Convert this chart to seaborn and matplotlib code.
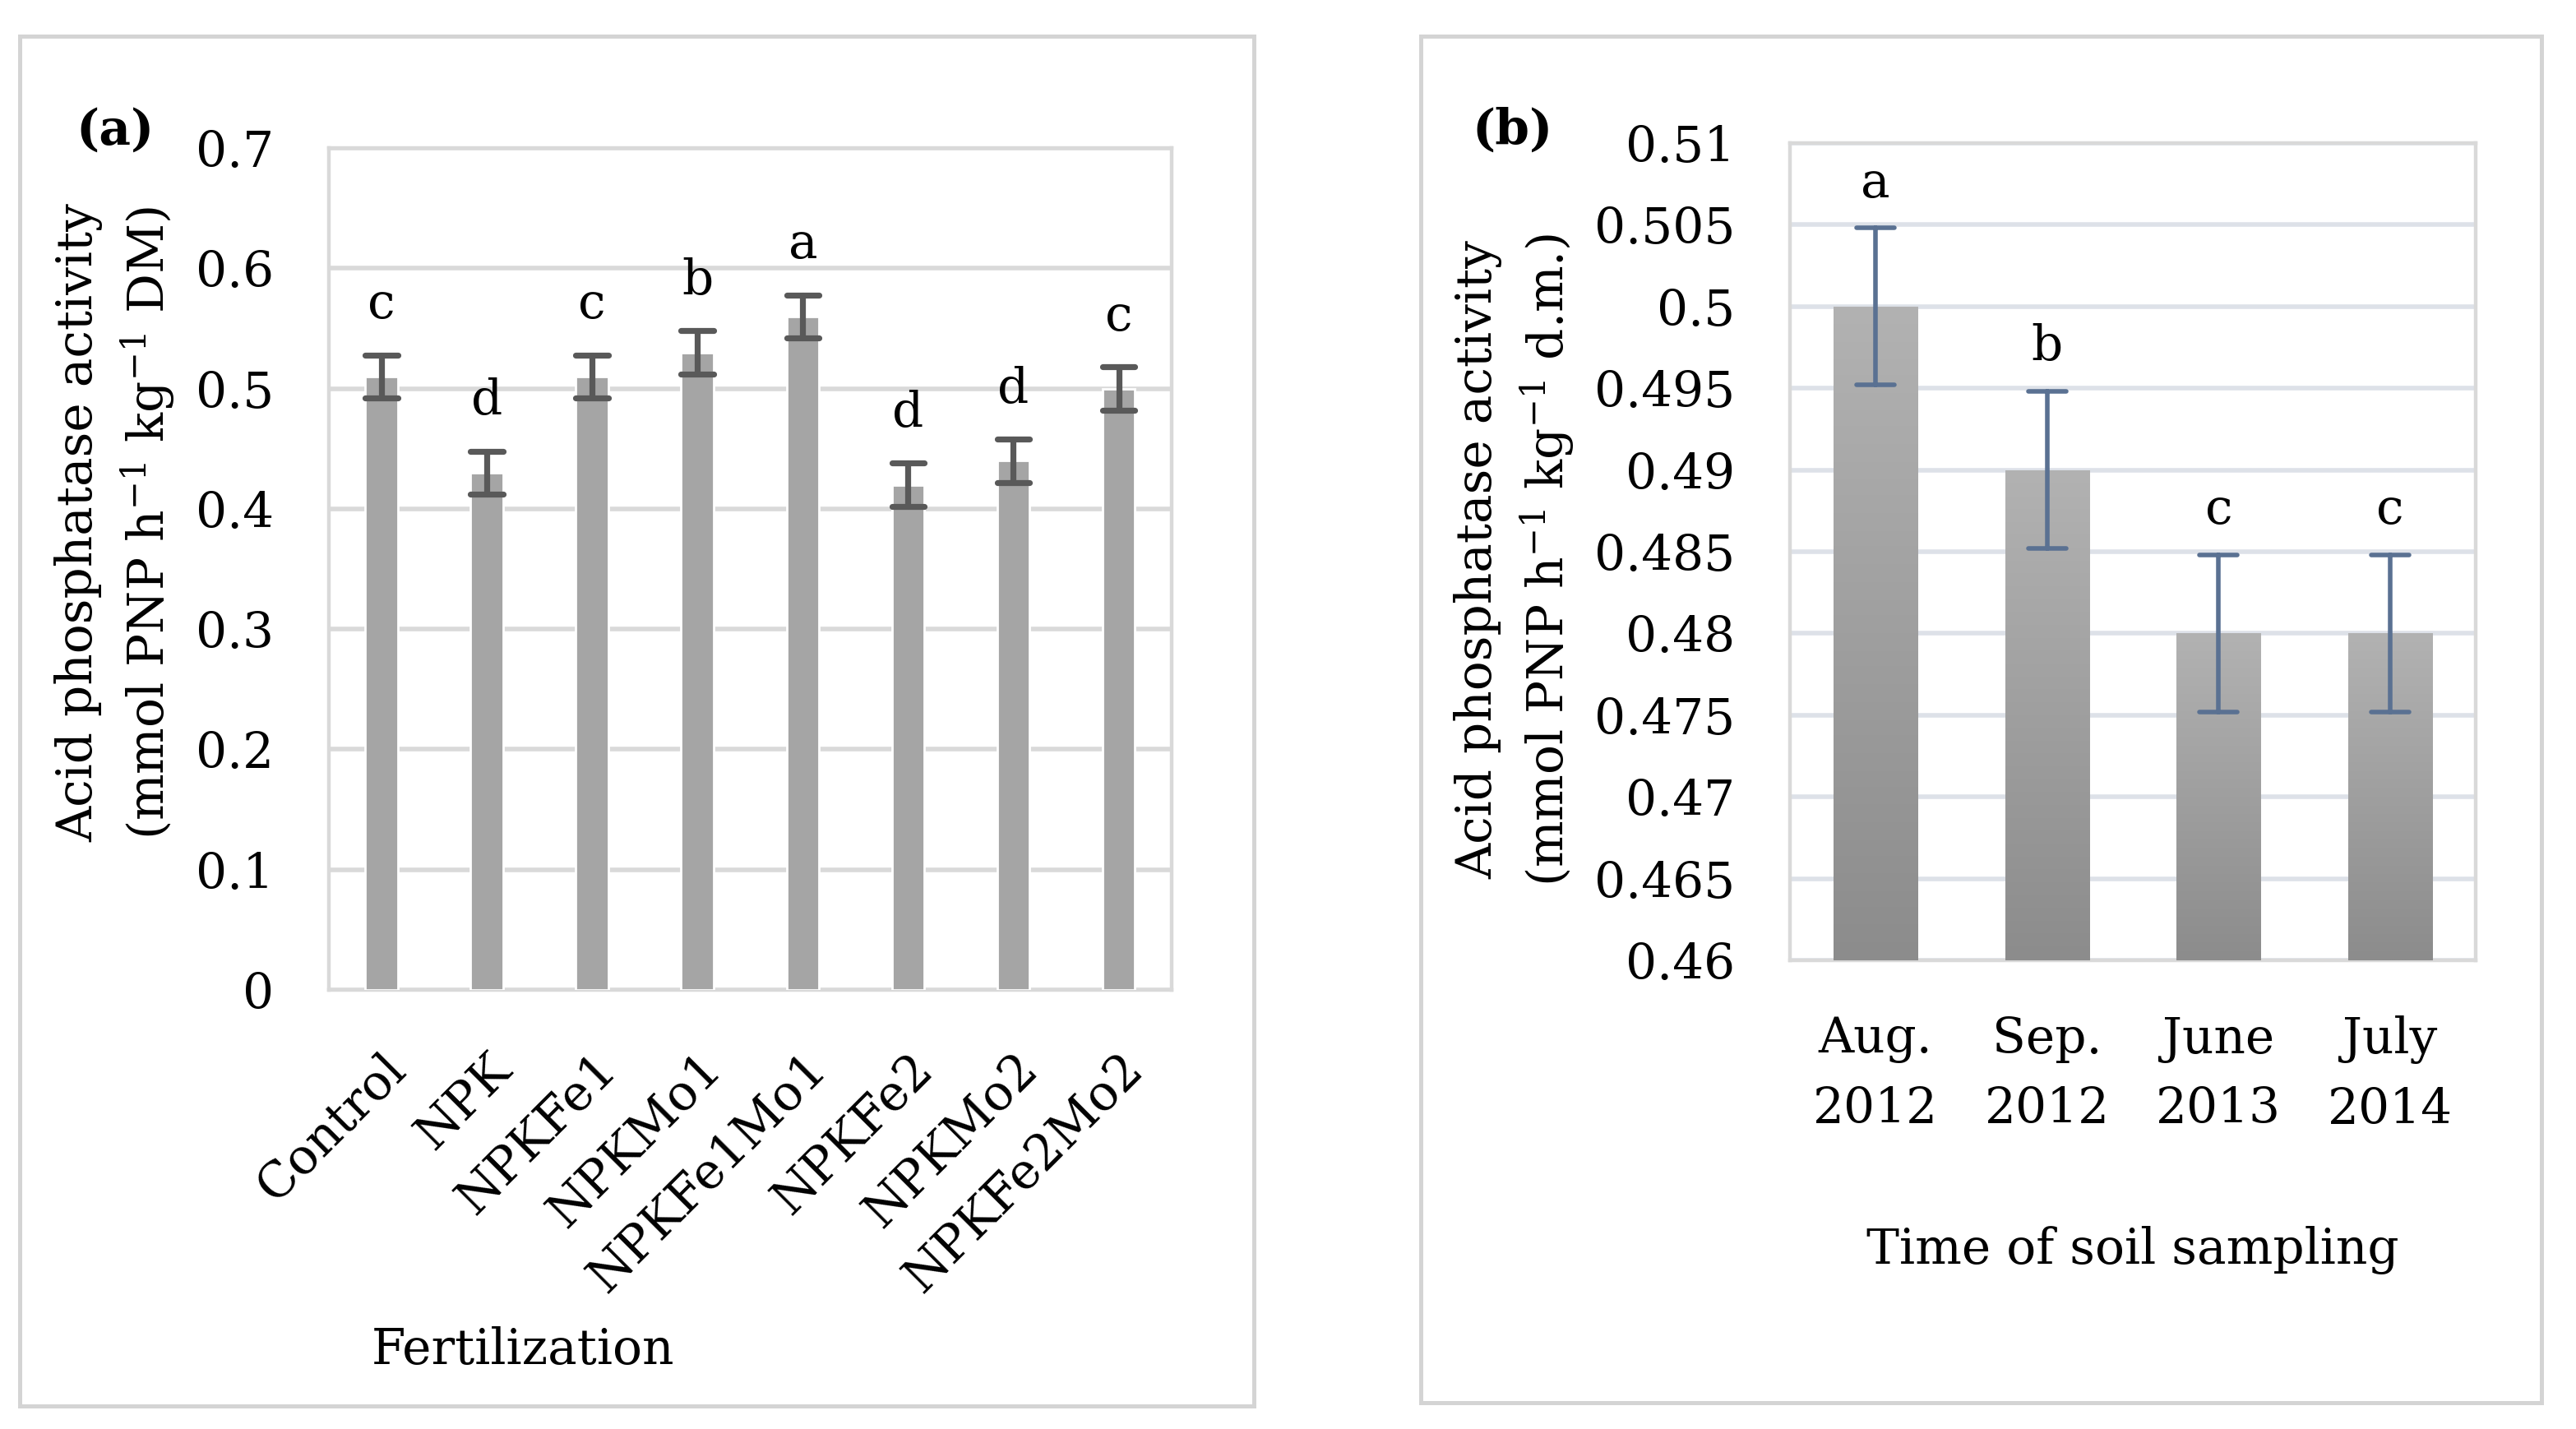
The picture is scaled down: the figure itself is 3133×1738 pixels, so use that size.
import numpy as np
import pandas as pd
import matplotlib
matplotlib.use("Agg")
import matplotlib.pyplot as plt
import matplotlib.ticker as mtick
from matplotlib.patches import Rectangle
import seaborn as sns

# ── Data ──────────────────────────────────────────────────────────────────────
FERT       = ["Control", "NPK", "NPKFe1", "NPKMo1", "NPKFe1Mo1",
              "NPKFe2", "NPKMo2", "NPKFe2Mo2"]
FERT_MEAN  = [0.51, 0.43, 0.51, 0.53, 0.56, 0.42, 0.44, 0.50]
FERT_ERR   = [0.018, 0.018, 0.018, 0.018, 0.018, 0.018, 0.018, 0.018]
FERT_LET   = ["c", "d", "c", "b", "a", "d", "d", "c"]

TIME       = ["Aug.\n2012", "Sep.\n2012", "June\n2013", "July\n2014"]
TIME_MEAN  = [0.50, 0.49, 0.48, 0.48]
TIME_ERR   = [0.0048, 0.0048, 0.0048, 0.0048]
TIME_LET   = ["a", "b", "c", "c"]

# ── Style ─────────────────────────────────────────────────────────────────────
FONT   = "DejaVu Serif"
BAR_A  = "#a5a5a5"
ERR_A  = "#595959"
ERR_B  = "#5a7192"
GRID_A = "#d9d9d9"
GRID_B = "#dde1e8"
FRAME  = "#d4d4d4"
FS     = 21.5
PAD    = 24

sns.set_theme(style="white")
plt.rcParams.update({
    "font.family":      [FONT, "DejaVu Sans"],
    "mathtext.fontset": "custom",
    "mathtext.rm":      FONT,
    "mathtext.it":      FONT + ":italic",
    "mathtext.bf":      FONT + ":bold",
    "text.color":       "black",
    "axes.labelcolor":  "black",
    "xtick.color":      "black",
    "ytick.color":      "black",
})


def _long(cats, means, errs):
    """Two rows per bar (mean-err, mean+err) so seaborn gives mean and range."""
    rows = []
    for c, m, e in zip(cats, means, errs):
        rows += [(c, m - e), (c, m + e)]
    return pd.DataFrame(rows, columns=["cat", "val"])


def _span(s):
    return s.min(), s.max()


def _style_axes(ax, grid_color):
    ax.grid(axis="y", color=grid_color, linewidth=2.0, zorder=0)
    ax.set_axisbelow(True)
    for s in ax.spines.values():
        s.set_color(GRID_A)
        s.set_linewidth(1.6)
    ax.tick_params(axis="both", length=0, labelsize=FS, pad=PAD)
    for ln in ax.lines:
        ln.set_zorder(5)


fig = plt.figure(figsize=(15.665, 8.69), dpi=200)
fig.patch.set_facecolor("white")

# panel frames
for x0, y0, w, h in [(0.0077, 0.0161, 0.4789, 0.9586),
                     (0.5517, 0.0184, 0.4349, 0.9563)]:
    fig.add_artist(Rectangle((x0, y0), w, h, transform=fig.transFigure,
                             fill=False, edgecolor=FRAME, linewidth=1.8))

# ── Panel (a) ─────────────────────────────────────────────────────────────────
ax1 = fig.add_axes([0.1277, 0.3073, 0.3270, 0.5891])
df1 = _long(FERT, FERT_MEAN, FERT_ERR)
sns.barplot(data=df1, x="cat", y="val", order=FERT, color=BAR_A,
            saturation=1, width=0.31, errorbar=_span, capsize=0.31,
            err_kws={"color": ERR_A, "linewidth": 2.6}, ax=ax1, zorder=3)
ax1.set_ylim(0, 0.7)
ax1.set_xlim(-0.5, len(FERT) - 0.5)
ax1.set_yticks(np.arange(0, 0.71, 0.1))
ax1.yaxis.set_major_formatter(mtick.FuncFormatter(lambda v, _: f"{round(v, 3):g}"))
_style_axes(ax1, GRID_A)
ax1.set_xticks(range(len(FERT)))
ax1.set_xticklabels(FERT, rotation=45, ha="right", rotation_mode="anchor")
ax1.set_xlabel("Fertilization", fontsize=FS)
ax1.xaxis.set_label_coords(0.23, -0.40)
ax1.set_ylabel("Acid phosphatase activity\n"
               r"(mmol PNP h$^{-1}$ kg$^{-1}$ DM)", fontsize=FS, linespacing=1.35)
ax1.yaxis.set_label_coords(-0.18, 0.555)
for i, (m, e, t) in enumerate(zip(FERT_MEAN, FERT_ERR, FERT_LET)):
    ax1.text(i, m + e + 0.022, t, ha="center", va="bottom", fontsize=FS)
fig.text(0.0294, 0.9085, "(a)", fontsize=FS, fontweight="bold",
         ha="left", va="center")

# ── Panel (b) ─────────────────────────────────────────────────────────────────
ax2 = fig.add_axes([0.6948, 0.328, 0.2663, 0.5719])
df2 = _long(TIME, TIME_MEAN, TIME_ERR)
sns.barplot(data=df2, x="cat", y="val", order=TIME, color="#a0a0a0",
            saturation=1, width=0.49, errorbar=_span, capsize=0.22,
            err_kws={"color": ERR_B, "linewidth": 2.0}, ax=ax2, zorder=3)
ax2.set_ylim(0.46, 0.51)
ax2.set_xlim(-0.5, len(TIME) - 0.5)
ax2.set_yticks(np.arange(0.46, 0.5101, 0.005))
ax2.yaxis.set_major_formatter(mtick.FuncFormatter(lambda v, _: f"{round(v, 4):g}"))

# vertical grey gradient inside each bar
grad = np.linspace(0, 1, 256).reshape(-1, 1)
cmap = matplotlib.colors.LinearSegmentedColormap.from_list(
    "g", ["#8c8c8c", "#b2b2b2"])
for p in list(ax2.patches):
    x0, y0 = p.get_x(), 0.46
    x1, y1 = x0 + p.get_width(), p.get_y() + p.get_height()
    im = ax2.imshow(grad, extent=[x0, x1, y0, y1], origin="lower",
                    cmap=cmap, aspect="auto", zorder=3.5)
    im.set_clip_path(p)
    p.set_edgecolor("none")
ax2.set_aspect("auto")
ax2.set_xlim(-0.5, len(TIME) - 0.5)
ax2.set_ylim(0.46, 0.51)

_style_axes(ax2, GRID_B)
for lab in ax2.get_xticklabels():
    lab.set_linespacing(1.6)
ax2.set_xlabel("Time of soil sampling", fontsize=FS)
ax2.xaxis.set_label_coords(0.5, -0.325)
ax2.set_ylabel("Acid phosphatase activity\n"
               r"(mmol PNP h$^{-1}$ kg$^{-1}$ d.m.)", fontsize=FS, linespacing=1.35)
ax2.yaxis.set_label_coords(-0.31, 0.49)
for i, (m, e, t) in enumerate(zip(TIME_MEAN, TIME_ERR, TIME_LET)):
    ax2.text(i, m + e + 0.0013, t, ha="center", va="bottom", fontsize=FS)
fig.text(0.5713, 0.9085, "(b)", fontsize=FS, fontweight="bold",
         ha="left", va="center")

fig.savefig("out.png", dpi=200, facecolor="white")
